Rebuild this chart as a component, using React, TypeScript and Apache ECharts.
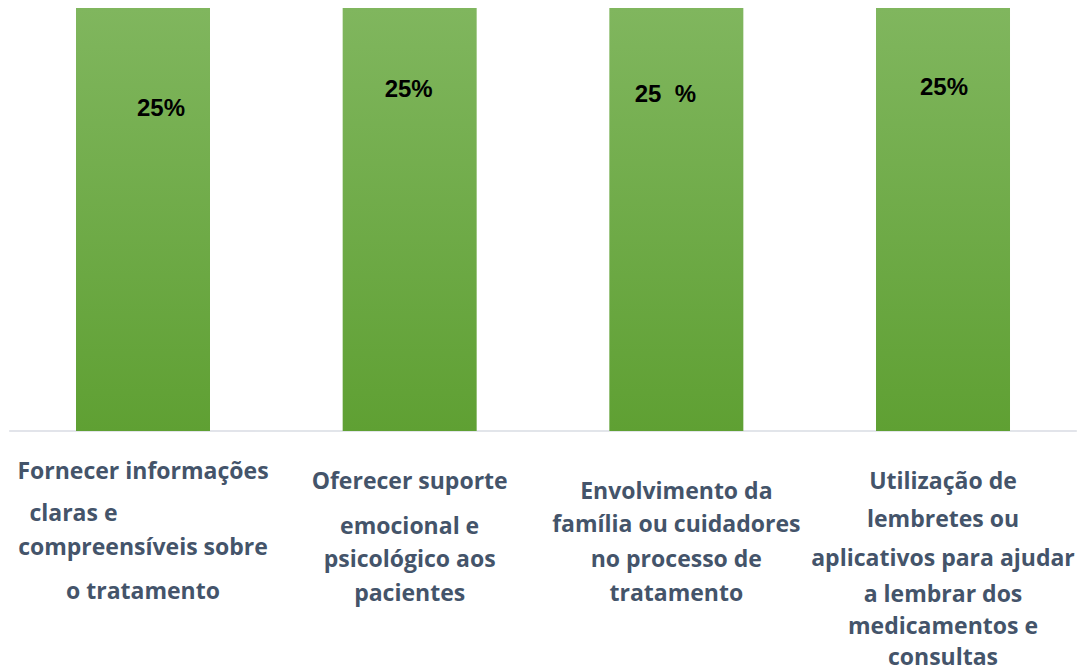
import React, { useEffect, useRef } from "react";
import * as echarts from "echarts";

// ---- data ----
const categoryLines: string[][] = [
  ["Fornecer informações", "claras e", "compreensíveis sobre", "o tratamento"],
  ["Oferecer suporte", "emocional e", "psicológico aos", "pacientes"],
  ["Envolvimento da", "família ou cuidadores", "no processo de", "tratamento"],
  ["Utilização de", "lembretes ou", "aplicativos para ajudar", "a lembrar dos", "medicamentos e", "consultas"],
];
const values: number[] = [25, 25, 25, 25];
const valueLabels: string[] = ["25%", "25%", "25  %", "25%"];

// ---- layout (styles only) ----
const labelSpacer = [2, 9, 28, 16];
const labelLineHeights = [
  [44, 40, 28, 60],
  [50, 40, 26, 42],
  [32, 34, 36, 32],
  [36, 40, 38, 34, 30, 32],
];
const valueLabelPos: [number, number][] = [
  [85, 99],
  [66, 80],
  [56, 85],
  [68, 78],
];

const CAT_COLOR = "#44546A";
const CAT_FONT = "Open Sans";
const CAT_SIZE = 23;

export default function App() {
  const ref = useRef<HTMLDivElement>(null);
  useEffect(() => {
    if (!ref.current) return;
    const chart = echarts.init(ref.current, undefined, { renderer: "svg" });

    const rich: Record<string, any> = {};
    const heights = new Set<number>();
    labelLineHeights.forEach((arr) => arr.forEach((h) => heights.add(h)));
    heights.forEach((h) => {
      rich["h" + h] = {
        fontFamily: CAT_FONT,
        fontWeight: "bold",
        fontSize: CAT_SIZE,
        color: CAT_COLOR,
        lineHeight: h,
      };
    });
    labelSpacer.forEach((s) => {
      rich["sp" + s] = { fontSize: 1, lineHeight: s, color: "transparent" };
    });
    rich["shiftL"] = {
      fontFamily: CAT_FONT,
      fontWeight: "bold",
      fontSize: CAT_SIZE,
      color: CAT_COLOR,
      lineHeight: 40,
      align: "left",
      padding: [0, 0, 0, 12],
    };

    const categories = categoryLines.map((l) => l.join(" "));

    const formatter = (_v: string, idx: number) => {
      const lines = categoryLines[idx];
      const hs = labelLineHeights[idx];
      const parts = ["{sp" + labelSpacer[idx] + "| }"];
      lines.forEach((t, i) => {
        if (idx === 0 && i === 1) parts.push("{shiftL|" + t + "}");
        else parts.push("{h" + hs[i] + "|" + t + "}");
      });
      return parts.join("\n");
    };

    chart.setOption({
      animation: false,
      grid: {
        left: 9.67,
        width: 1066.67,
        top: 8,
        bottom: 241,
        containLabel: false,
        outerBoundsMode: "none",
      },
      xAxis: {
        type: "category",
        data: categories,
        axisLine: { show: true, lineStyle: { color: "#D9DCE3", width: 1.5 } },
        axisTick: { show: false },
        axisLabel: {
          interval: 0,
          margin: 15,
          verticalAlign: "top",
          align: "center",
          fontFamily: CAT_FONT,
          fontWeight: "bold",
          fontSize: CAT_SIZE,
          color: CAT_COLOR,
          formatter,
          rich,
        },
        splitLine: { show: false },
      },
      yAxis: {
        type: "value",
        min: 0,
        max: 25,
        show: false,
        splitLine: { show: false },
      },
      series: [
        {
          type: "bar",
          barWidth: 134,
          itemStyle: {
            color: new echarts.graphic.LinearGradient(0, 0, 0, 1, [
              { offset: 0, color: "#80B65E" },
              { offset: 1, color: "#5FA033" },
            ]),
          },
          data: values.map((v, i) => ({
            value: v,
            label: {
              show: true,
              position: valueLabelPos[i],
              align: "center",
              verticalAlign: "middle",
              formatter: valueLabels[i],
              fontFamily: "Liberation Sans",
              fontWeight: "bold",
              fontSize: 24,
              color: "#000000",
            },
          })),
        },
      ],
    });
    return () => chart.dispose();
  }, []);
  return (
    <div
      ref={ref}
      style={{ position: "fixed", left: 0, top: 0, width: 1080, height: 672, background: "#fff" }}
    />
  );
}
